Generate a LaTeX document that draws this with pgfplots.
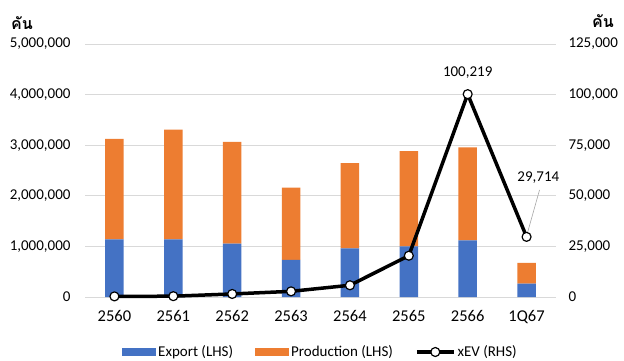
\documentclass[border=0pt]{standalone}
\usepackage{fontspec}
\setmainfont{Carlito}
\newfontfamily\thaifont[Script=Thai]{Loma}
\usepackage{pgfplots}
\pgfplotsset{compat=1.18}
\definecolor{cblue}{HTML}{4472C4}
\definecolor{corange}{HTML}{ED7D31}
\definecolor{cgrid}{HTML}{D9D9D9}
\newcommand{\tickfont}{\fontsize{15}{18}\selectfont}
\newcommand{\xfont}{\fontsize{16.5}{19}\selectfont}
\begin{document}
\begin{tikzpicture}
\path[use as bounding box] (0,0) rectangle (624pt,360pt);
\begin{axis}[
  at={(85pt,63pt)}, anchor=south west,
  scale only axis, width=471pt, height=253pt,
  xmin=-0.5, xmax=7.5, ymin=0, ymax=5000000,
  ybar stacked, bar width=18.5pt,
  xtick={0,1,2,3,4,5,6,7},
  xticklabels={2560,2561,2562,2563,2564,2565,2566,1Q67},
  ytick={0,1000000,2000000,3000000,4000000,5000000},
  scaled y ticks=false,
  ymajorgrids, grid style={cgrid, line width=0.9pt},
  axis line style={draw=none},
  major tick length=0pt,
  /pgf/number format/fixed, /pgf/number format/1000 sep={,}, /pgf/number format/assume math mode=true,
  y tick label style={font=\tickfont, xshift=-11pt},
  x tick label style={font=\xfont, yshift=-10pt},
  legend style={at={(0.5,-0.2174)}, anchor=center, draw=none, fill=none,
    legend columns=3, font=\tickfont,
    /tikz/every even column/.append style={column sep=20pt},
    nodes={inner sep=2pt}},
]
\addplot[fill=cblue, draw=none,
  legend image code/.code={\fill[cblue] (0pt,-3.6pt) rectangle (34pt,3.6pt);}]
  coordinates {(0,1139000) (1,1141000) (2,1054000) (3,736000) (4,959000) (5,1000000) (6,1118000) (7,265000)};
\addlegendentry{Export (LHS)}
\addplot[fill=corange, draw=none,
  legend image code/.code={\fill[corange] (0pt,-3.6pt) rectangle (34pt,3.6pt);}]
  coordinates {(0,1988000) (1,2168000) (2,2014000) (3,1427000) (4,1686000) (5,1884000) (6,1841000) (7,410000)};
\addlegendentry{Production (LHS)}
\addlegendimage{legend image code/.code={\draw[black,line width=3.5pt] (0pt,0pt) -- (37pt,0pt); \draw[black,line width=1.2pt,fill=white] (18.5pt,0pt) circle (4.5pt);}}
\addlegendentry{xEV (RHS)}
\end{axis}
\begin{axis}[
  at={(85pt,63pt)}, anchor=south west,
  scale only axis, width=471pt, height=253pt,
  xmin=-0.5, xmax=7.5, ymin=0, ymax=125000,
  hide x axis,
  axis y line*=right,
  axis line style={draw=none},
  major tick length=0pt,
  ytick={0,25000,50000,75000,100000,125000},
  scaled y ticks=false,
  /pgf/number format/fixed, /pgf/number format/1000 sep={,}, /pgf/number format/assume math mode=true,
  y tick label style={font=\tickfont, xshift=9pt},
  clip=false,
]
\addplot[black, line width=3.5pt, line join=round, mark=*, mark size=4.5pt,
  mark options={fill=white, draw=black, line width=1.2pt}]
  coordinates {(0,300) (1,400) (2,1500) (3,2800) (4,5800) (5,20400) (6,100219) (7,29714)};
\draw[gray!70, line width=0.6pt] (axis cs:7.22,52866) -- (axis cs:7.01,31126);
\node[font=\tickfont] at (axis cs:6,100219) [yshift=22pt] {100,219};
\node[font=\tickfont] at (axis cs:7.2,58800) {29,714};
\end{axis}
\node[font=\thaifont\bfseries\fontsize{16}{19}\selectfont] at (22pt,337pt) {คัน};
\node[font=\thaifont\bfseries\fontsize{16}{19}\selectfont] at (603pt,339pt) {คัน};
\end{tikzpicture}
\end{document}
